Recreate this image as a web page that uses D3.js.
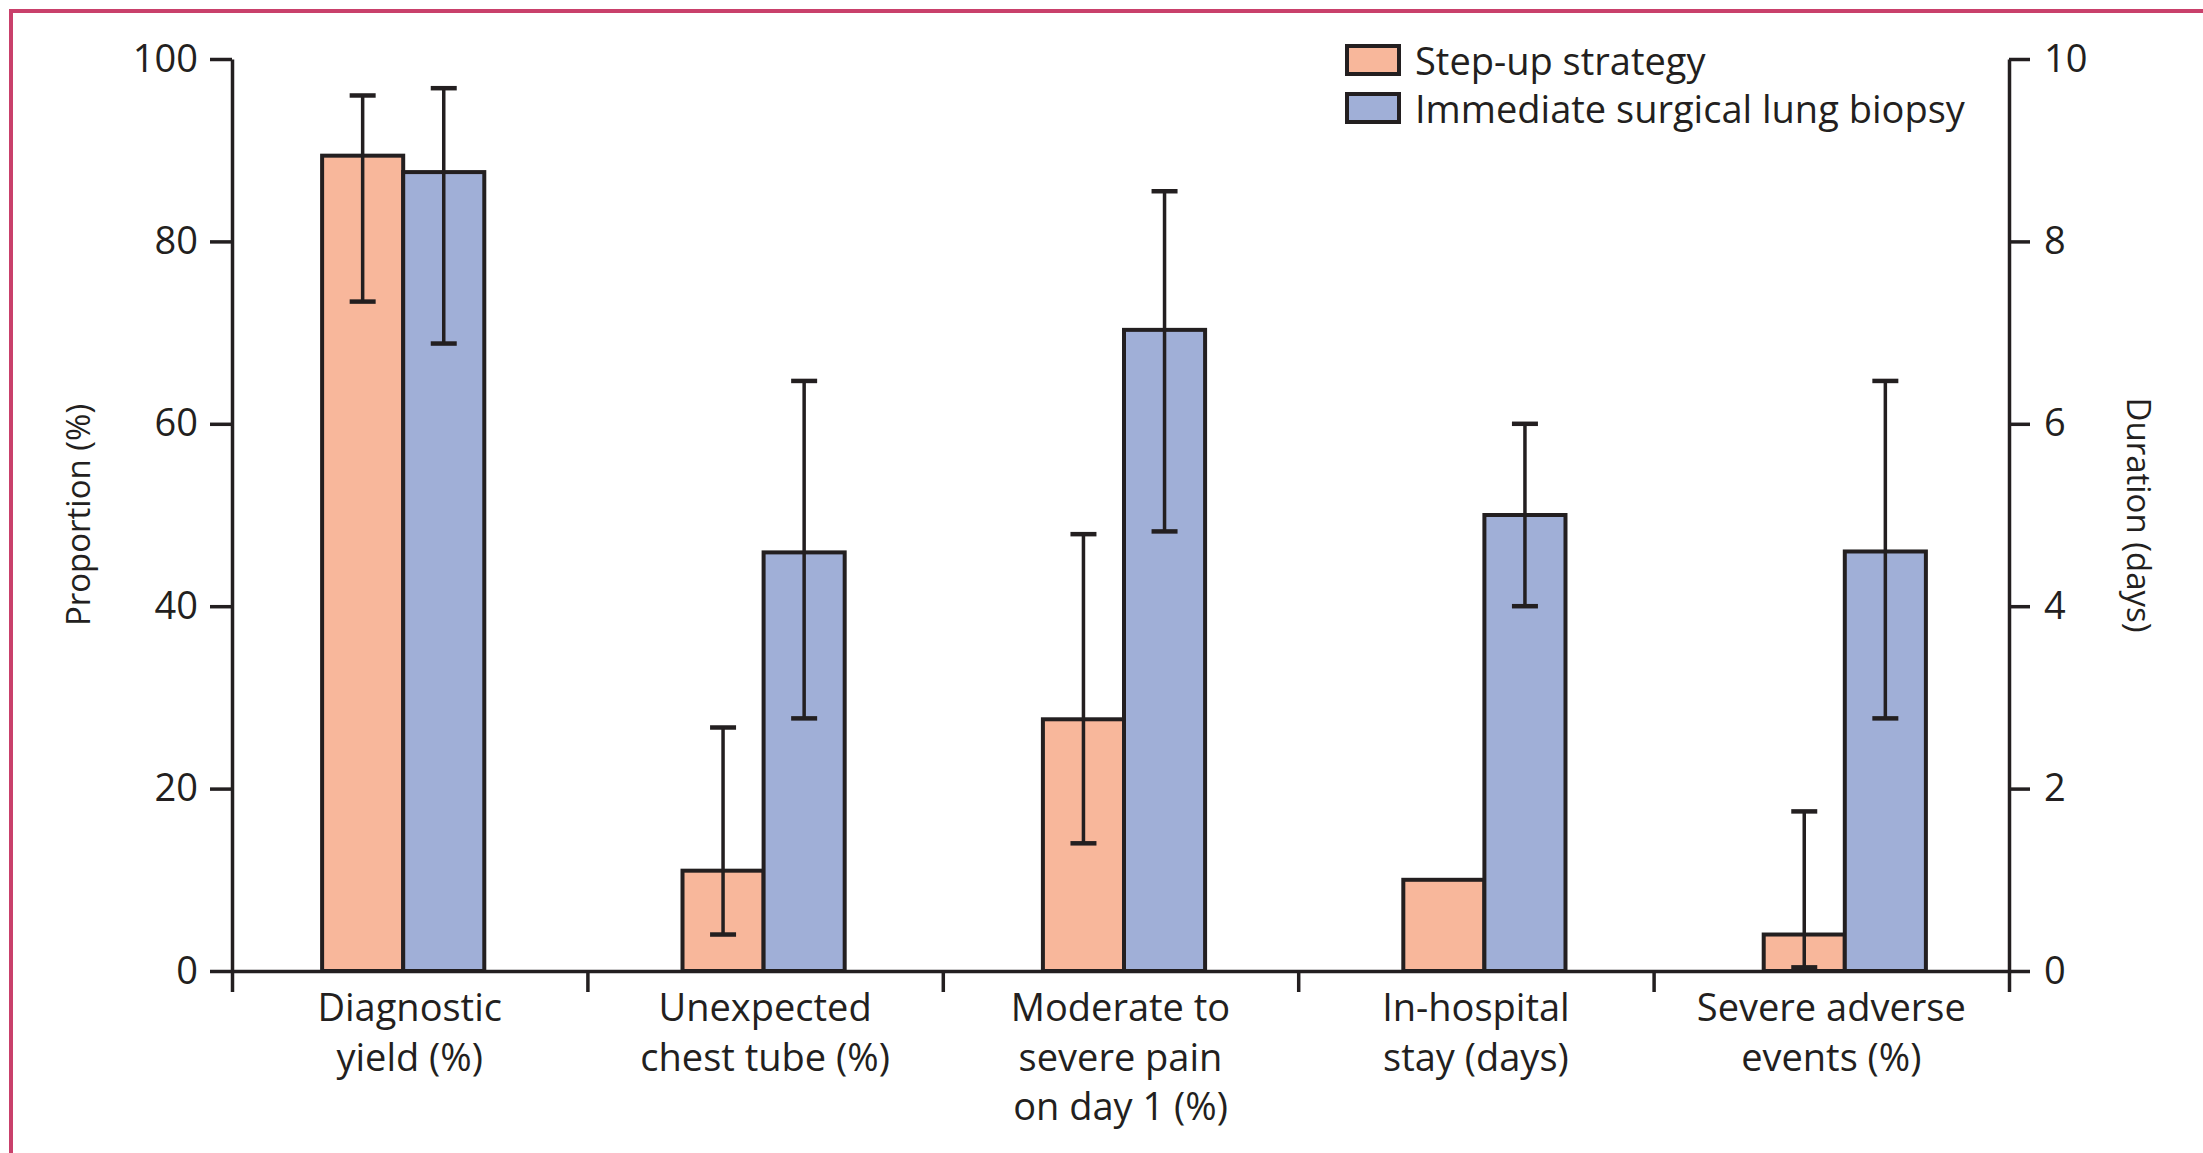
<!DOCTYPE html>
<html>
<head>
<meta charset="utf-8">
<script src="https://cdn.jsdelivr.net/npm/d3@7"></script>
<style>
  body { margin: 0; background: #fff; }
  svg text { font-family: 'Open Sans', sans-serif; fill: #231f20; }
</style>
</head>
<body>
<svg id="chart" width="2203" height="1153"></svg>
<script>
// Data
var categories = ['diag', 'tube', 'pain', 'stay', 'adverse']
var categoryLines = [
  ['Diagnostic', 'yield (%)'],
  ['Unexpected', 'chest tube (%)'],
  ['Moderate to', 'severe pain', 'on day 1 (%)'],
  ['In-hospital', 'stay (days)'],
  ['Severe adverse', 'events (%)']
]
// which y axis each category is read against
var categoryAxis = ['left', 'left', 'left', 'right', 'left']

var series = ['Step-up strategy', 'Immediate surgical lung biopsy']
var seriesColors = ['#f8b79b', '#a0afd7']

var stepUpValues = [89.4, 11.0, 27.6, 1.0, 4.0]
var stepUpLow = [73.4, 4.0, 14.0, null, 0.4]
var stepUpHigh = [96.0, 26.7, 47.9, null, 17.5]

var surgicalValues = [87.6, 45.9, 70.3, 5.0, 46.0]
var surgicalLow = [68.8, 27.7, 48.2, 4.0, 27.7]
var surgicalHigh = [96.8, 64.7, 85.5, 6.0, 64.7]

var leftTicks = [0, 20, 40, 60, 80, 100]
var rightTicks = [0, 2, 4, 6, 8, 10]

var ink = '#231f20'

var svg = d3.select('#chart')

// pink frame round the figure
svg
  .append('rect')
  .attr('x', 11)
  .attr('y', 11)
  .attr('width', 2400)
  .attr('height', 1400)
  .attr('fill', 'none')
  .attr('stroke', '#c9406b')
  .attr('stroke-width', 4)

// Scales
var plotLeft = 232
var plotRight = 2009
var plotTop = 59
var plotBottom = 971

var yLeft = d3.scaleLinear().domain([0, 100]).range([plotBottom, plotTop])
var yRight = d3.scaleLinear().domain([0, 10]).range([plotBottom, plotTop])

var xCat = d3.scaleBand().domain(categories).range([plotLeft, plotRight])
var xEdge = d3.scaleLinear().domain([0, 5]).range([plotLeft, plotRight])

// bars sit on a slightly wider grid than the axis ticks
var xBar = d3
  .scaleBand()
  .domain(categories)
  .range([223, 2025])
  .paddingInner(0.55)
  .paddingOuter(0.275)
var xSub = d3
  .scaleBand()
  .domain(series)
  .range([0, xBar.bandwidth()])

var bars = []
categories.forEach(function(c, i) {
  var yScale = categoryAxis[i] === 'left' ? yLeft : yRight
  bars.push({ cat: c, s: series[0], color: seriesColors[0], y: yScale, v: stepUpValues[i], lo: stepUpLow[i], hi: stepUpHigh[i] })
  bars.push({ cat: c, s: series[1], color: seriesColors[1], y: yScale, v: surgicalValues[i], lo: surgicalLow[i], hi: surgicalHigh[i] })
})

// Bars
svg
  .selectAll('.bar')
  .data(bars)
  .enter()
  .append('rect')
  .attr('class', 'bar')
  .attr('x', d => xBar(d.cat) + xSub(d.s))
  .attr('width', xSub.bandwidth())
  .attr('y', d => d.y(d.v))
  .attr('height', d => plotBottom - d.y(d.v))
  .attr('fill', d => d.color)
  .attr('stroke', ink)
  .attr('stroke-width', 4)

// Error bars
var errs = svg
  .selectAll('.err')
  .data(bars.filter(d => d.lo !== null))
  .enter()
  .append('g')
  .attr('class', 'err')
  .attr('transform', d => `translate(${xBar(d.cat) + xSub(d.s) + xSub.bandwidth() / 2},0)`)

errs
  .append('line')
  .attr('y1', d => d.y(d.lo))
  .attr('y2', d => d.y(d.hi))
  .attr('stroke', ink)
  .attr('stroke-width', 3.5)

errs
  .selectAll('.cap')
  .data(d => [d.y(d.lo), d.y(d.hi)])
  .enter()
  .append('line')
  .attr('x1', -13)
  .attr('x2', 13)
  .attr('y1', d => d)
  .attr('y2', d => d)
  .attr('stroke', ink)
  .attr('stroke-width', 4.5)

// Axes
function styleAxis(g) {
  g.selectAll('path, line').attr('stroke', ink).attr('stroke-width', 3.5)
  g.selectAll('text')
    .attr('fill', ink)
    .style('font-size', '38px')
    .style('font-family', "'Open Sans', sans-serif")
}

var yAxisLeft = d3
  .axisLeft(yLeft)
  .tickValues(leftTicks)
  .tickSize(22)
  .tickSizeOuter(0)
  .tickPadding(12)
svg
  .append('g')
  .attr('class', 'axis y-axis')
  .attr('transform', `translate(${plotLeft},0)`)
  .call(yAxisLeft)
  .call(styleAxis)

var yAxisRight = d3
  .axisRight(yRight)
  .tickValues(rightTicks)
  .tickSize(21)
  .tickSizeOuter(0)
  .tickPadding(14)
svg
  .append('g')
  .attr('class', 'axis y-axis-right')
  .attr('transform', `translate(${plotRight},0)`)
  .call(yAxisRight)
  .call(styleAxis)

var xAxis = d3
  .axisBottom(xEdge)
  .tickValues([0, 1, 2, 3, 4, 5])
  .tickSize(21)
  .tickSizeOuter(0)
  .tickFormat('')
svg
  .append('g')
  .attr('class', 'axis x-axis')
  .attr('transform', `translate(0,${plotBottom})`)
  .call(xAxis)
  .call(styleAxis)

// Category labels
svg
  .selectAll('.cat-label')
  .data(categories)
  .enter()
  .append('text')
  .attr('class', 'cat-label')
  .attr('text-anchor', 'middle')
  .style('font-size', '38px')
  .each(function(c, i) {
    var t = d3.select(this)
    categoryLines[i].forEach(function(line, j) {
      t.append('tspan')
        .attr('x', xCat(c) + xCat.bandwidth() / 2)
        .attr('y', 1021 + j * 49.5)
        .text(line)
    })
  })

// Axis titles
svg
  .append('text')
  .attr('transform', `translate(77,${(plotTop + plotBottom) / 2}) rotate(-90)`)
  .attr('text-anchor', 'middle')
  .attr('dominant-baseline', 'central')
  .style('font-size', '33px')
  .text('Proportion (%)')

svg
  .append('text')
  .attr('transform', `translate(2139,${(plotTop + plotBottom) / 2}) rotate(90)`)
  .attr('text-anchor', 'middle')
  .attr('dominant-baseline', 'central')
  .style('font-size', '33px')
  .text('Duration (days)')

// Legend
var legend = svg
  .selectAll('.legend')
  .data(series)
  .enter()
  .append('g')
  .attr('class', 'legend')
  .attr('transform', (d, i) => `translate(1347,${46 + i * 48})`)

legend
  .append('rect')
  .attr('width', 52)
  .attr('height', 28)
  .attr('fill', (d, i) => seriesColors[i])
  .attr('stroke', ink)
  .attr('stroke-width', 4)

legend
  .append('text')
  .attr('x', 68)
  .attr('y', 29)
  .style('font-size', '38px')
  .text(d => d)
</script>
</body>
</html>
